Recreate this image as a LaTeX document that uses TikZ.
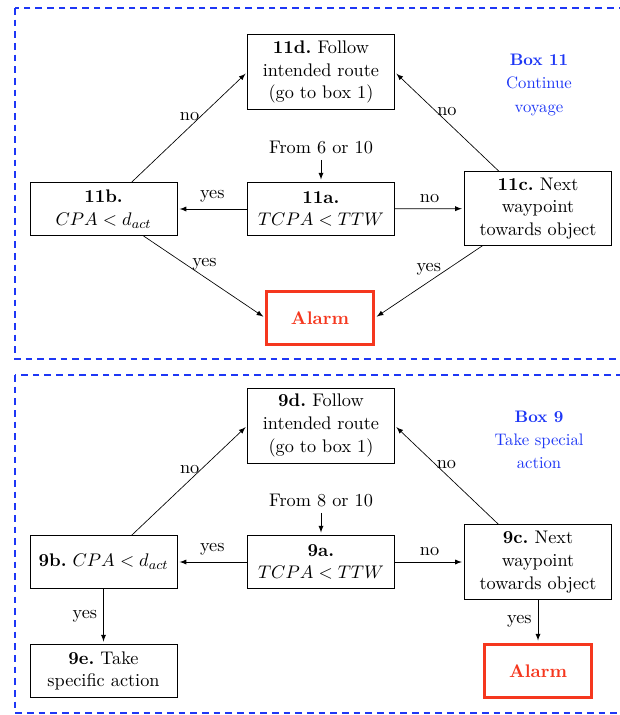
\documentclass[tikz,border=0pt,11pt]{standalone}
\usepackage{tikz}
\usepackage{xcolor}
\usetikzlibrary{arrows}

\definecolor{boxblue}{RGB}{30,55,245}
\definecolor{alarmred}{RGB}{245,55,30}

\tikzset{
  stepbox/.style={draw, align=center, minimum width=88pt, minimum height=32pt, inner sep=2pt},
  alarmbox/.style={draw=alarmred, line width=1.6pt, text=alarmred, font=\bfseries,
    minimum width=64pt, minimum height=32pt},
  flow/.style={-latex, shorten >=1.5pt},
  region/.style={draw=boxblue, line width=0.8pt, dash pattern=on 4pt off 3pt},
  boxtitle/.style={text=boxblue, align=center, font=\small}
}

\begin{document}
\begin{tikzpicture}[x=0.6pt, y=-0.6pt]
  \useasboundingbox (0,0) rectangle (620,715);
  \clip (0,0) rectangle (620,715);

  % dashed frames round the two boxes
  \draw[region] (15,8) rectangle (640,359);
  \draw[region] (15,375) rectangle (640,713);

  % Box 11
  \node[boxtitle] (title11) at (539,85) {\textbf{Box 11}\\[2pt]Continue\\[2pt]voyage};
  \node[stepbox, minimum height=45pt] (d11) at (321,72) {\textbf{11d.}~Follow\\intended route\\(go to box 1)};
  \node (from11) at (321,147) {From 6 or 10};
  \node[stepbox] (a11) at (321,209) {\textbf{11a.}\\$TCPA < TTW$};
  \node[stepbox] (b11) at (103.5,209) {\textbf{11b.}\\$CPA < d_{act}$};
  \node[stepbox, minimum height=44pt] (c11) at (538,208.5) {\textbf{11c.}~Next\\waypoint\\towards object};
  \node[alarmbox] (alarm11) at (320,318) {Alarm};

  \draw[flow] (from11) -- (a11);
  \draw[flow] (a11) -- node[above] {yes} (b11);
  \draw[flow] (a11) -- node[above] {no} (c11);
  \draw[flow] (b11) -- node[above] {no} (d11.west);
  \draw[flow] (c11) -- node[above] {no} (d11.east);
  \draw[flow] (b11) -- node[above] {yes} (alarm11.west);
  \draw[flow] (c11) -- node[above] {yes} (alarm11.east);

  % Box 9
  \node[boxtitle] (title9) at (539,440) {\textbf{Box 9}\\[2pt]Take special\\[2pt]action};
  \node[stepbox, minimum height=45pt] (d9) at (321,425.5) {\textbf{9d.}~Follow\\intended route\\(go to box 1)};
  \node (from9) at (321,500) {From 8 or 10};
  \node[stepbox] (a9) at (321,562) {\textbf{9a.}\\$TCPA < TTW$};
  \node[stepbox] (b9) at (103.5,562) {\textbf{9b.}~$CPA < d_{act}$};
  \node[stepbox, minimum height=45pt] (c9) at (538,562) {\textbf{9c.}~Next\\waypoint\\towards object};
  \node[stepbox] (e9) at (103.5,671) {\textbf{9e.}~Take\\specific action};
  \node[alarmbox] (alarm9) at (538,671) {Alarm};

  \draw[flow] (from9) -- (a9);
  \draw[flow] (a9) -- node[above] {yes} (b9);
  \draw[flow] (a9) -- node[above] {no} (c9);
  \draw[flow] (b9) -- node[above] {no} (d9.west);
  \draw[flow] (c9) -- node[above] {no} (d9.east);
  \draw[flow] (b9) -- node[left] {yes} (e9);
  \draw[flow] (c9) -- node[left] {yes} (alarm9);
\end{tikzpicture}
\end{document}
